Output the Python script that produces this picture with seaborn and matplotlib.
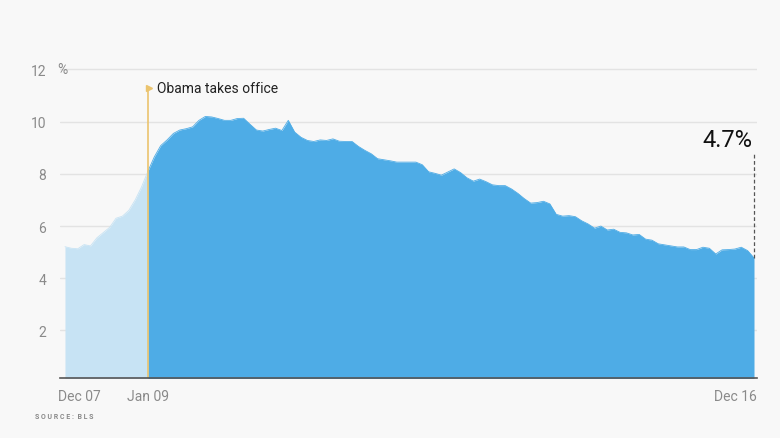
import matplotlib
matplotlib.use("Agg")
import matplotlib.pyplot as plt
import matplotlib.transforms as mtransforms
import numpy as np
import pandas as pd
import seaborn as sns

# Monthly unemployment rate, Dec 2007 .. Dec 2016
rate = [5.21, 5.15, 5.13, 5.29, 5.24, 5.55, 5.75, 5.95, 6.30, 6.38,
        6.60, 7.00, 7.50, 8.10, 8.65, 9.08, 9.30, 9.55, 9.68, 9.73,
        9.80, 10.05, 10.20, 10.18, 10.12, 10.05, 10.05, 10.12, 10.13, 9.90,
        9.68, 9.64, 9.70, 9.75, 9.66, 10.05, 9.60, 9.40, 9.28, 9.24,
        9.30, 9.28, 9.34, 9.25, 9.24, 9.24, 9.05, 8.90, 8.77, 8.58,
        8.54, 8.50, 8.45, 8.45, 8.45, 8.45, 8.35, 8.08, 8.02, 7.95,
        8.07, 8.19, 8.05, 7.85, 7.72, 7.80, 7.70, 7.58, 7.55, 7.55,
        7.42, 7.25, 7.05, 6.88, 6.90, 6.95, 6.85, 6.45, 6.38, 6.40,
        6.36, 6.20, 6.08, 5.92, 6.00, 5.85, 5.88, 5.76, 5.74, 5.66,
        5.68, 5.50, 5.46, 5.32, 5.28, 5.24, 5.20, 5.20, 5.10, 5.10,
        5.19, 5.15, 4.93, 5.09, 5.10, 5.12, 5.19, 5.06, 4.78]
months = pd.date_range("2007-12-01", "2016-12-01", freq="MS")
obama_month = "2009-01-01"
final_label = "4.7%"
xtick_dates = ["2007-12-01", "2009-01-01", "2016-12-01"]
xtick_labels = ["Dec 07", "Jan 09", "Dec 16"]
ytick_values = [2, 4, 6, 8, 10, 12]
ytick_labels = ["2", "4", "6", "8", "10", "12"]

df = pd.DataFrame({"month": months, "rate": rate})
df["idx"] = np.arange(len(df))
split = int(df.index[df["month"] == pd.Timestamp(obama_month)][0])
xt = [int(df.index[df["month"] == pd.Timestamp(d)][0]) for d in xtick_dates]

sns.set_theme(style="white")
plt.rcParams["font.family"] = ["Roboto", "DejaVu Sans"]

BG = "#f8f8f8"
DARK = "#4eace6"
LIGHT = "#c7e3f4"
GOLD = "#ebc46e"
GRAY = "#8a8a8a"

fig = plt.figure(figsize=(7.8, 4.39), dpi=100, facecolor=BG)
ax = fig.add_axes([60 / 780, 60 / 439, 697 / 780, 319 / 439])
ax.set_facecolor(BG)

pre = df[df["idx"] <= split]
post = df[df["idx"] >= split]
ax.fill_between(pre["idx"], 0, pre["rate"], color=LIGHT, linewidth=0, zorder=2)
ax.fill_between(post["idx"], 0, post["rate"], color=DARK, linewidth=0, zorder=2)
sns.lineplot(data=pre, x="idx", y="rate", ax=ax, color=LIGHT, linewidth=0.6, zorder=3)
sns.lineplot(data=post, x="idx", y="rate", ax=ax, color=DARK, linewidth=0.6, zorder=3)

ax.set_xlim(-0.78, len(df) - 1 + 0.47)
ax.set_ylim(0.18, 12.40)

# grid lines
for v in ytick_values:
    ax.axhline(v, color="#e3e3e3", linewidth=1.0, zorder=1)

for s in ["top", "right", "left"]:
    ax.spines[s].set_visible(False)
ax.spines["bottom"].set_color("#555555")
ax.spines["bottom"].set_linewidth(1.2)
ax.spines["bottom"].set_zorder(5)

ax.set_yticks(ytick_values)
ax.set_yticklabels(ytick_labels)
ax.tick_params(axis="y", length=0, pad=10, labelsize=10, labelcolor=GRAY)
fig.text(57 / 780, 1 - 70.5 / 439, "%", ha="left", va="center",
         fontsize=10, color=GRAY)

ax.set_xticks(xt)
ax.set_xticklabels(xtick_labels)
ax.tick_params(axis="x", length=0, pad=8, labelsize=10, labelcolor=GRAY)
xl = ax.get_xticklabels()
xl[0].set_ha("left")
xl[0].set_transform(xl[0].get_transform() + mtransforms.ScaledTranslation(-7 / 100, 0, fig.dpi_scale_trans))
xl[1].set_ha("center")
xl[2].set_ha("right")
xl[2].set_transform(xl[2].get_transform() + mtransforms.ScaledTranslation(3 / 100, 0, fig.dpi_scale_trans))
ax.set_xlabel("")
ax.set_ylabel("")

# Obama line
ax.plot([split, split], [0.18, 11.3], color=GOLD, linewidth=1.2, zorder=4)
ax.plot([split + 0.15], [11.3], marker=">", markersize=4, color=GOLD, zorder=4)
ax.text(split + 1.5, 11.3, "Obama takes office", ha="left", va="center",
        fontsize=10, color="#222222")

# final value
last = len(df) - 1
ax.plot([last, last], [rate[-1], 8.75], color="#555555", linewidth=0.9,
        linestyle=(0, (3, 2)), zorder=4)
ax.text(last - 0.2, 9.3, final_label, ha="right", va="center",
        fontsize=17, color="#111111")

fig.text(35 / 780, 1 - 417 / 439, "S O U R C E :  B L S", ha="left", va="center",
         fontsize=5, color=GRAY, fontweight="bold")

fig.savefig("out.png", dpi=100, facecolor=BG)
